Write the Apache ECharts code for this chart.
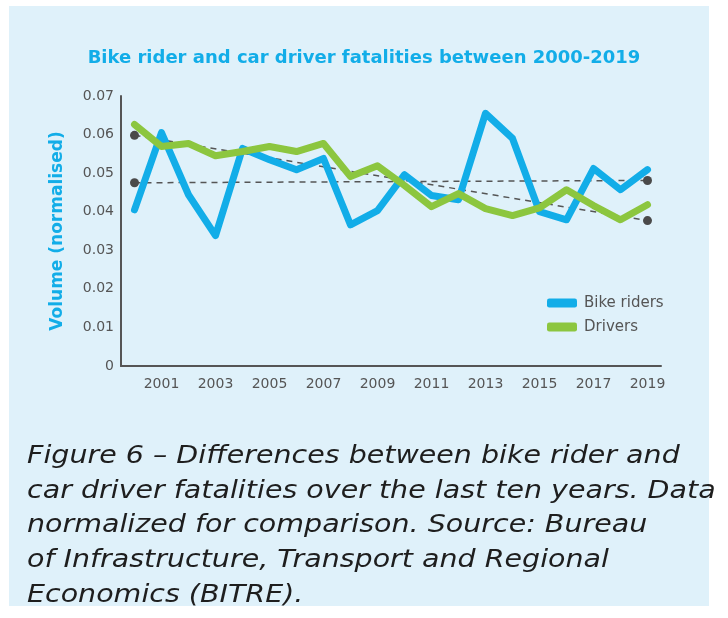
<!DOCTYPE html>
<html>
<head>
<meta charset="utf-8">
<script src="https://cdn.jsdelivr.net/npm/echarts@6/dist/echarts.min.js"></script>
<style>
  html, body { margin: 0; padding: 0; background: #ffffff; }
  #panel { position: absolute; left: 9px; top: 6px; width: 700px; height: 600px; background: #dff1fa; }
  #main { position: absolute; left: 0; top: 0; width: 728px; height: 618px; }
</style>
</head>
<body>
<div id="panel"></div>
<div id="main"></div>
<script>
// years on the x axis
var years = [];
for (var y = 2000; y <= 2019; y++) years.push(String(y));

// normalised fatalities
var bikeRiders = [0.0405, 0.0605, 0.0444, 0.0338, 0.0564, 0.0535, 0.0509, 0.0538, 0.0366, 0.0403,
                  0.0496, 0.0442, 0.0431, 0.0655, 0.0590, 0.0400, 0.0379, 0.0512, 0.0457, 0.0509];
var drivers    = [0.0626, 0.0569, 0.0577, 0.0545, 0.0556, 0.0569, 0.0556, 0.0577, 0.0491, 0.0519,
                  0.0468, 0.0413, 0.0447, 0.0408, 0.0390, 0.0410, 0.0457, 0.0416, 0.0379, 0.0418];

// linear trend end points (2000 -> 2019)
var bikeTrend   = [0.0475, 0.0481];
var driverTrend = [0.0598, 0.0377];

var yTicks = [0, 0.01, 0.02, 0.03, 0.04, 0.05, 0.06, 0.07];

var caption = [
  'Figure 6 \u2013 Differences between bike rider and',
  'car driver fatalities over the last ten years. Data',
  'normalized for comparison. Source: Bureau',
  'of Infrastructure, Transport and Regional',
  'Economics (BITRE).'
];

var BLUE = '#12ade8';
var GREEN = '#8cc63f';
var GREY = '#555555';
var FONT = 'DejaVu Sans';

function trendSeries(name, ends) {
  return {
    name: name,
    type: 'line',
    data: [[years[0], ends[0]], [years[years.length - 1], ends[1]]],
    symbol: 'circle',
    symbolSize: 9,
    itemStyle: { color: '#4a4a4a' },
    lineStyle: { color: GREY, width: 1.5, type: [6, 5] },
    z: 1
  };
}

var chart = echarts.init(document.getElementById('main'));

var option = {
  animation: false,
  title: {
    text: 'Bike rider and car driver fatalities between 2000-2019',
    left: 'center',
    top: 44,
    textStyle: { color: BLUE, fontFamily: FONT, fontWeight: 'bold', fontSize: 18 }
  },
  legend: {
    data: ['Bike riders', 'Drivers'],
    orient: 'vertical',
    left: 547,
    top: 295,
    padding: 0,
    itemWidth: 30,
    itemHeight: 9,
    itemGap: 8,
    icon: 'roundRect',
    textStyle: { color: GREY, fontFamily: FONT, fontSize: 15, lineHeight: 16, padding: [0, 0, 0, 2] }
  },
  grid: { left: 121, right: 67, top: 96, bottom: 252 },
  xAxis: {
    type: 'category',
    data: years,
    boundaryGap: true,
    axisLine: { lineStyle: { color: GREY, width: 2 } },
    axisTick: {
      alignWithLabel: true,
      inside: true,
      length: 6,
      lineStyle: { color: GREY, width: 2 },
      interval: function (i) { return i % 2 === 1; }
    },
    axisLabel: {
      interval: function (i) { return i % 2 === 1; },
      color: GREY,
      fontFamily: FONT,
      fontSize: 14,
      margin: 11
    }
  },
  yAxis: {
    type: 'value',
    min: yTicks[0],
    max: yTicks[yTicks.length - 1],
    interval: 0.01,
    name: 'Volume (normalised)',
    nameLocation: 'middle',
    nameGap: 55,
    nameTextStyle: { color: BLUE, fontFamily: FONT, fontWeight: 'bold', fontSize: 17 },
    axisLine: { show: true, lineStyle: { color: GREY, width: 2 } },
    axisTick: { show: false },
    splitLine: { show: false },
    axisLabel: { color: GREY, fontFamily: FONT, fontSize: 14, margin: 7 }
  },
  graphic: caption.map(function (line, i) {
    return {
      type: 'text',
      x: 27,
      y: 444 + i * 34.7,
      scaleX: 1.14,
      style: {
        text: line,
        fill: '#1e1e1e',
        font: 'oblique 25px "DejaVu Sans"'
      }
    };
  }),
  series: [
    trendSeries('Bike trend', bikeTrend),
    trendSeries('Driver trend', driverTrend),
    {
      name: 'Bike riders',
      type: 'line',
      data: bikeRiders,
      showSymbol: false,
      symbol: 'none',
      itemStyle: { color: BLUE },
      lineStyle: { color: BLUE, width: 7, join: 'round', cap: 'round' },
      z: 3
    },
    {
      name: 'Drivers',
      type: 'line',
      data: drivers,
      showSymbol: false,
      symbol: 'none',
      itemStyle: { color: GREEN },
      lineStyle: { color: GREEN, width: 7, join: 'round', cap: 'round' },
      z: 4
    }
  ]
};

chart.setOption(option);
</script>
</body>
</html>
